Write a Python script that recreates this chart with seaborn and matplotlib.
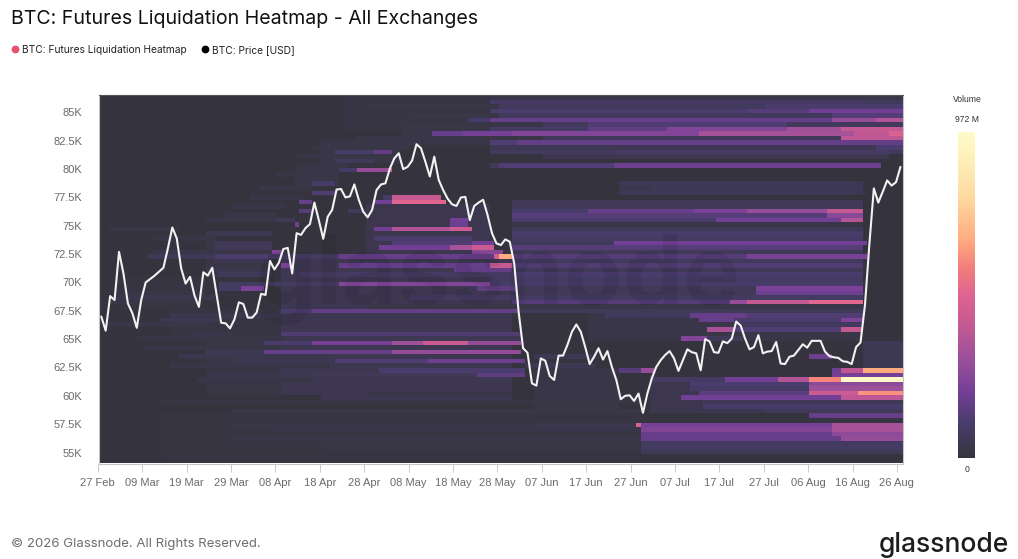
import numpy as np
import matplotlib
matplotlib.use("Agg")
import matplotlib.pyplot as plt
from matplotlib.colors import LinearSegmentedColormap
from matplotlib.lines import Line2D
import seaborn as sns

# --------------------------------------------------
# Data
# --------------------------------------------------
date_labels = ["27 Feb", "09 Mar", "19 Mar", "29 Mar", "08 Apr", "18 Apr", "28 Apr",
               "08 May", "18 May", "28 May", "07 Jun", "17 Jun", "27 Jun", "07 Jul",
               "17 Jul", "27 Jul", "06 Aug", "16 Aug", "26 Aug"]
price_labels = ["85K", "82.5K", "80K", "77.5K", "75K", "72.5K", "70K", "67.5K",
                "65K", "62.5K", "60K", "57.5K", "55K"]
price_ticks = [85, 82.5, 80, 77.5, 75, 72.5, 70, 67.5, 65, 62.5, 60, 57.5, 55]

# daily BTC price, thousands of USD
btc_price = [
    67.0, 65.75, 68.8, 68.45, 72.7, 70.8, 68.15, 67.3, 66.0, 68.45,
    70.0, 70.3, 70.6, 70.95, 71.3, 73.0, 74.85, 73.9, 71.25, 69.9,
    70.5, 68.85, 67.85, 70.9, 70.6, 71.3, 68.9, 66.45, 66.4, 65.95,
    66.75, 68.25, 68.1, 66.9, 66.9, 67.35, 69.0, 68.9, 71.9, 71.15,
    71.75, 72.95, 73.05, 70.8, 74.35, 74.2, 74.8, 75.15, 77.05, 75.5,
    73.85, 75.8, 76.4, 78.2, 78.25, 77.5, 77.6, 78.65, 77.3, 76.25,
    75.75, 76.4, 78.15, 78.65, 78.75, 80.05, 80.95, 81.4, 80.0, 80.2,
    80.75, 82.2, 81.85, 80.65, 79.35, 81.1, 79.05, 78.15, 77.4, 76.9,
    76.75, 77.5, 77.55, 75.5, 76.75, 77.05, 77.3, 75.95, 74.35, 73.45,
    73.3, 73.8, 73.6, 71.7, 67.4, 64.2, 63.8, 61.1, 60.9, 63.3,
    63.1, 61.75, 61.4, 63.55, 63.55, 64.5, 65.65, 66.3, 65.65, 64.3,
    62.8, 63.45, 64.2, 63.2, 63.95, 62.55, 61.4, 59.7, 60.0, 60.05,
    59.55, 60.2, 58.5, 60.2, 61.55, 62.55, 63.15, 63.6, 63.95, 63.3,
    62.2, 63.15, 64.1, 63.85, 63.75, 62.25, 65.0, 64.8, 63.85, 63.8,
    64.8, 64.65, 65.05, 66.55, 66.2, 65.05, 64.1, 64.3, 65.35, 63.75,
    63.9, 63.95, 64.75, 62.85, 62.8, 63.45, 63.55, 64.05, 64.55, 64.25,
    64.85, 64.85, 64.85, 63.9, 63.5, 63.4, 63.35, 63.05, 63.0, 62.8,
    64.3, 64.7, 68.0, 73.4, 78.3, 77.05, 78.0, 79.0, 78.55, 78.85, 80.2,
]

# broad dim areas: (high K, low K, first day, last day, volume in M)
wash_blocks = [
    (86.2, 83.0, 55, 93, 14), (86.2, 81.0, 88, 181, 70), (84.0, 81.8, 68, 93, 22),
    (82.4, 80.4, 50, 68, 22), (80.4, 78.4, 44, 54, 20),
    (78.9, 77.4, 117, 172, 40), (77.2, 67.0, 93, 172, 58),
    (73.6, 70.4, 24, 39, 20), (70.4, 67.6, 4, 24, 10), (67.6, 65.2, 16, 41, 14),
    (76.8, 72.2, 60, 88, 38), (72.2, 60.0, 41, 93, 44), (65.0, 60.0, 24, 41, 16),
    (67.0, 64.8, 110, 172, 26), (62.2, 58.4, 98, 117, 24), (61.6, 58.2, 124, 172, 40),
    (64.8, 58.0, 172, 181, 48), (58.0, 54.6, 122, 181, 50), (58.4, 54.2, 14, 122, 10),
]

# liquidation bands: (price K, first day, last day, volume in M)
faint_bands = [
    (86.4, 88, 181, 26), (85.6, 60, 90, 20), (84.8, 70, 90, 26),
    (84.0, 72, 100, 26), (82.9, 58, 100, 26),
    (81.9, 48, 70, 24), (81.1, 44, 62, 24), (80.2, 44, 56, 24), (79.4, 40, 48, 22),
    (78.2, 36, 48, 24), (77.4, 34, 46, 28), (76.6, 30, 42, 28), (75.8, 28, 40, 26),
    (75.4, 24, 40, 30), (74.7, 2, 18, 26), (74.3, 24, 39, 44), (73.8, 12, 26, 24),
    (73.4, 26, 39, 55), (73.0, 26, 39, 60), (72.6, 12, 26, 30), (71.8, 26, 38, 42),
    (71.0, 24, 38, 36), (69.0, 6, 24, 22), (68.6, 4, 26, 34), (68.2, 2, 22, 24),
    (67.0, 16, 41, 32), (66.6, 14, 27, 44), (66.2, 2, 25, 24), (65.4, 20, 30, 30),
    (65.0, 8, 42, 20), (64.2, 10, 36, 26), (63.4, 18, 52, 36), (62.8, 16, 52, 30),
    (62.0, 24, 92, 36), (61.4, 22, 48, 22), (60.4, 60, 93, 26), (59.6, 14, 122, 18),
    (58.6, 30, 122, 22), (57.4, 30, 122, 26), (57.0, 40, 122, 30),
    (56.2, 30, 122, 24), (55.4, 50, 122, 26),
]
upper_bands = [
    (85.8, 88, 172, 90), (85.2, 88, 146, 100), (85.2, 146, 160, 130), (85.2, 160, 181, 190),
    (85.6, 150, 181, 105), (84.9, 165, 181, 130), (84.5, 83, 88, 90), (84.5, 88, 165, 170),
    (84.5, 165, 175, 280), (84.5, 175, 181, 350), (84.1, 110, 155, 115),
    (83.6, 88, 110, 85), (83.6, 110, 128, 150), (83.6, 128, 155, 230), (83.6, 155, 167, 300),
    (83.6, 167, 181, 400), (83.2, 75, 82, 170), (83.2, 82, 93, 200), (83.2, 93, 135, 235),
    (83.2, 135, 170, 320), (83.2, 170, 178, 390), (83.2, 178, 181, 470), (82.8, 167, 181, 380),
    (82.5, 88, 94, 120), (82.5, 94, 181, 165), (82.1, 88, 175, 50), (82.1, 175, 181, 110),
    (81.5, 53, 62, 100), (81.5, 62, 66, 165), (81.5, 116, 178, 85), (81.1, 100, 178, 45),
    (80.6, 53, 62, 60), (80.5, 88, 116, 60), (80.5, 116, 175, 100), (80.2, 90, 116, 120),
    (80.2, 116, 176, 180), (79.9, 54, 58, 90), (79.9, 58, 65, 280), (79.9, 65, 66, 430),
]
middle_bands = [
    (78.9, 117, 172, 46), (78.5, 124, 172, 55), (78.1, 117, 172, 48), (77.7, 70, 74, 60),
    (78.6, 48, 53, 90), (78.0, 48, 53, 120), (77.65, 64, 66, 90), (77.65, 66, 77, 400),
    (77.0, 45, 48, 170), (77.0, 62, 66, 190), (77.0, 66, 78, 490), (76.5, 93, 110, 100),
    (76.5, 110, 134, 170), (76.5, 134, 146, 210), (76.5, 146, 164, 280), (76.5, 164, 172, 400),
    (76.2, 45, 48, 130), (76.2, 56, 60, 70), (76.1, 93, 164, 130), (76.1, 164, 172, 250),
    (75.7, 93, 139, 100), (75.7, 139, 167, 190), (75.7, 167, 172, 360), (75.5, 79, 83, 190),
    (75.5, 40, 44, 60), (75.3, 44, 45, 180), (75.1, 79, 83, 180), (75.0, 93, 172, 24),
    (74.7, 62, 66, 190), (74.7, 66, 79, 350), (74.7, 79, 84, 420), (74.3, 93, 172, 100),
    (74.05, 62, 84, 105), (73.9, 93, 172, 85), (73.6, 66, 84, 120), (73.6, 84, 89, 190),
    (73.4, 116, 173, 190), (73.0, 63, 79, 190), (73.0, 79, 84, 330), (73.0, 84, 89, 420),
    (73.0, 93, 172, 130), (72.7, 84, 91, 250), (72.6, 39, 41, 230), (72.2, 11, 26, 55),
    (72.2, 26, 38, 110), (72.2, 38, 54, 80), (72.2, 54, 89, 170), (72.2, 89, 90, 440),
    (72.2, 90, 93, 650), (72.2, 93, 146, 130), (72.2, 146, 173, 210), (71.8, 93, 172, 70),
    (71.4, 41, 43, 200), (71.4, 54, 88, 170), (71.4, 88, 93, 400), (71.4, 93, 172, 120),
    (71.0, 80, 93, 160), (70.8, 27, 38, 60), (70.8, 45, 93, 80), (70.8, 93, 172, 110),
    (70.4, 88, 172, 80), (70.1, 27, 54, 80), (70.1, 54, 93, 235), (70.1, 93, 146, 130),
    (70.1, 146, 172, 270), (69.8, 88, 172, 95), (69.5, 27, 32, 80), (69.5, 32, 37, 210),
    (69.5, 85, 94, 150), (69.5, 148, 172, 215), (69.1, 148, 172, 180), (68.7, 70, 172, 80),
    (68.15, 93, 142, 130), (68.15, 142, 146, 280), (68.15, 146, 160, 400), (68.15, 160, 172, 500),
    (67.8, 60, 172, 24), (67.55, 41, 48, 110), (67.55, 48, 94, 165), (67.3, 114, 133, 70),
    (67.3, 133, 146, 170), (67.3, 146, 159, 450), (67.3, 159, 163, 530), (67.3, 163, 167, 650),
    (67.3, 167, 172, 850), (67.0, 146, 172, 120),
]
lower_bands = [
    (66.55, 135, 143, 170), (66.55, 143, 167, 110), (66.55, 167, 172, 220), (66.2, 143, 172, 70),
    (65.9, 137, 143, 330), (65.9, 143, 167, 120), (65.9, 167, 172, 400), (65.6, 41, 95, 115),
    (65.2, 131, 137, 230), (65.2, 137, 145, 60), (65.0, 70, 95, 50), (64.6, 37, 48, 110),
    (64.6, 48, 66, 200), (64.6, 66, 73, 300), (64.6, 73, 83, 420), (64.6, 83, 95, 280),
    (64.05, 24, 37, 50), (64.05, 37, 66, 170), (64.05, 66, 95, 280), (63.6, 160, 165, 180),
    (63.6, 98, 112, 45), (63.2, 30, 53, 45), (63.2, 53, 74, 120), (63.2, 74, 96, 180),
    (62.8, 96, 112, 45), (62.4, 63, 96, 110), (62.35, 117, 122, 130), (62.35, 122, 125, 280),
    (62.3, 165, 167, 180), (62.3, 167, 172, 380), (62.3, 172, 181, 650), (62.0, 165, 181, 200),
    (61.8, 48, 85, 60), (61.8, 85, 96, 150), (61.6, 124, 141, 80), (61.6, 141, 153, 190),
    (61.6, 153, 160, 350), (61.6, 160, 167, 580), (61.6, 167, 181, 950), (61.3, 133, 181, 70),
    (61.1, 133, 160, 110), (61.1, 160, 181, 260), (60.8, 133, 160, 85), (60.8, 160, 181, 300),
    (60.5, 135, 160, 140), (60.5, 160, 171, 420), (60.5, 171, 181, 600), (60.1, 150, 181, 60),
    (60.0, 50, 93, 45), (59.8, 131, 167, 190), (59.8, 167, 181, 380), (59.4, 136, 181, 55),
    (59.0, 136, 181, 95), (58.7, 150, 181, 60), (58.4, 160, 181, 170), (58.0, 122, 181, 8),
    (57.7, 98, 121, 40), (57.7, 121, 123, 480), (57.4, 122, 165, 200), (57.4, 165, 181, 320),
    (57.1, 122, 165, 230), (57.1, 165, 181, 330), (56.8, 122, 165, 170), (56.8, 165, 181, 260),
    (56.5, 122, 167, 170), (56.5, 167, 181, 280), (56.1, 122, 181, 75), (55.7, 122, 181, 80),
    (55.3, 122, 181, 60),
]

# --------------------------------------------------
# Build the heatmap table
# --------------------------------------------------
n_days = 181
price_top = 86.54
price_bottom = 54.03
bin_size = 0.4
n_rows = int(round((price_top - price_bottom) / bin_size))
volume = np.zeros((n_rows, n_days))

for high, low, start, end, vol in wash_blocks:
    row_a = int((price_top - high) / bin_size)
    row_b = int((price_top - low) / bin_size)
    volume[row_a:row_b, start:end] = vol

for bands in [faint_bands, upper_bands, middle_bands, lower_bands]:
    for price, start, end, vol in bands:
        row = int((price_top - price) / bin_size)
        volume[row, start:end] = vol

# --------------------------------------------------
# Figure
# --------------------------------------------------
sns.set_theme(style="white")
plt.rcParams["font.family"] = ["Liberation Sans", "DejaVu Sans"]

W, H = 1018, 559
fig = plt.figure(figsize=(W / 100, H / 100), dpi=100)


def px_axes(left, top, right, bottom):
    return fig.add_axes([left / W, 1 - bottom / H, (right - left) / W, (bottom - top) / H])


liq_cmap = LinearSegmentedColormap.from_list(
    "liq",
    [(0.0, "#35343e"), (0.1, "#473c6a"), (0.2, "#733f96"), (0.3, "#9a4f9a"),
     (0.42, "#c85b92"), (0.5, "#dd6490"), (0.58, "#f27d7c"), (0.67, "#ffab80"),
     (0.8, "#fed9a0"), (0.9, "#fdedb5"), (1.0, "#fdfbc9")],
)

ax = px_axes(99.3, 95, 902.7, 463.5)
cax = px_axes(958.3, 131.7, 974.7, 457.7)
sns.heatmap(volume, cmap=liq_cmap, vmin=0, vmax=972, ax=ax, cbar_ax=cax,
            xticklabels=False, yticklabels=False)
for side in ax.spines:
    ax.spines[side].set_visible(True)
    ax.spines[side].set_color("#c4c4c8")
    ax.spines[side].set_linewidth(0.8)
ax.spines["top"].set_color("#55555c")
cax.tick_params(left=False, right=False, labelright=False, labelleft=False)
for side in cax.spines:
    cax.spines[side].set_visible(False)

# price line on its own axes, on top of the heatmap
over = px_axes(97.7, 95, 902.7, 463.5)
over.patch.set_alpha(0)
days = np.arange(len(btc_price)) + 0.8
sns.lineplot(x=days, y=btc_price, color="#f2f2f2", linewidth=1.5, ax=over)
over.set_xlim(0, 181.3)
over.set_ylim(price_bottom, price_top)
over.set_xticks(np.arange(len(date_labels)) * 10)
over.set_xticklabels(date_labels, fontsize=8, color="#6b6b6b")
over.set_yticks(price_ticks)
over.set_yticklabels(price_labels, fontsize=8, color="#6b6b6b")
over.tick_params(axis="x", length=5.5, width=0.7, color="#c8c8c8", pad=5, bottom=True)
over.tick_params(axis="y", length=0, pad=11)
over.set_xlabel("")
over.set_ylabel("")
sns.despine(ax=over, left=True, bottom=True, top=True, right=True)

# watermark
over.text(90, 70.3, "glassnode", fontsize=69, fontweight="bold", color="#000000",
          alpha=0.07, ha="center", va="center", family="Inter", zorder=1)

# texts
fig.text(11 / W, 1 - 19 / H, "BTC: Futures Liquidation Heatmap - All Exchanges",
         fontsize=14.1, color="#111111", va="center", family="Inter")
fig.text(967 / W, 1 - 99.5 / H, "Volume", fontsize=6.2, color="#333333", ha="center", va="center")
fig.text(967 / W, 1 - 119 / H, "972 M", fontsize=6.2, color="#333333", ha="center", va="center")
fig.text(967 / W, 1 - 470 / H, "0", fontsize=6.2, color="#333333", ha="center", va="center")
fig.text(11 / W, 1 - 544.5 / H, "© 2026 Glassnode. All Rights Reserved.",
         fontsize=9.5, color="#6e6e6e", va="center", family="Inter")
fig.text(1009 / W, 1 - 545 / H, "glassnode", fontsize=19, color="#1d1d1f", ha="right",
         va="center", family="Inter", fontweight="medium")

handles = [
    Line2D([], [], marker="o", linestyle="", markersize=4.6, color="#e8506f",
           label="BTC: Futures Liquidation Heatmap"),
    Line2D([], [], marker="o", linestyle="", markersize=4.6, color="#000000",
           label="BTC: Price [USD]"),
]
fig.legend(handles=handles, loc="center left", bbox_to_anchor=(7 / W, 1 - 50 / H), ncol=2,
           frameon=False, prop={"family": "Inter", "size": 7.35}, handlelength=0.9,
           handletextpad=0.25, columnspacing=1.35, labelcolor="#222222",
           borderaxespad=0, borderpad=0.3)

plt.savefig("out.png", dpi=100)
plt.close()
